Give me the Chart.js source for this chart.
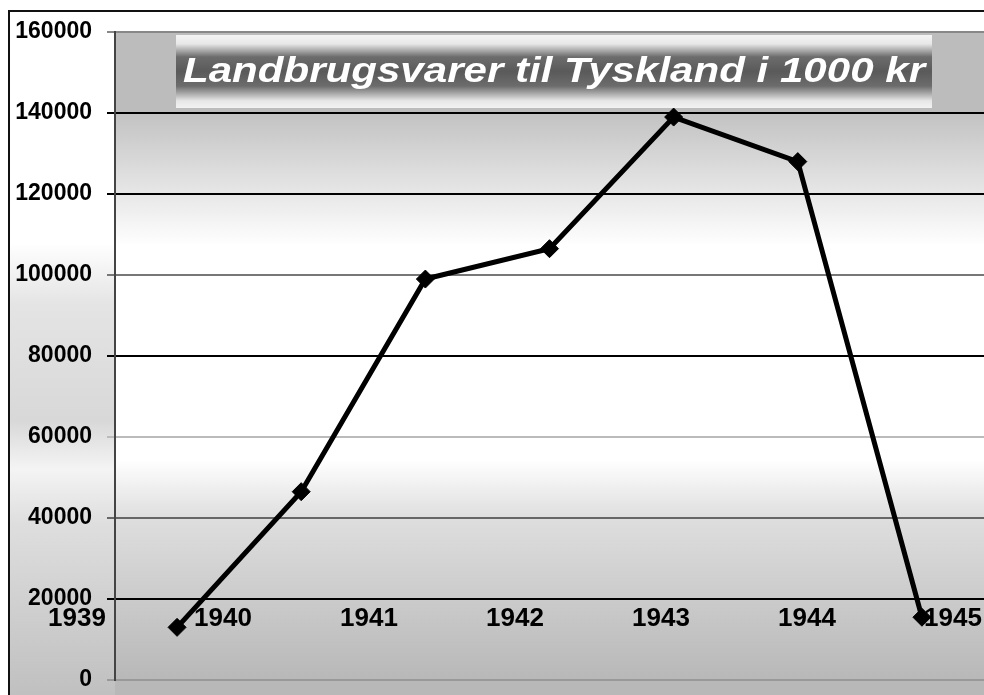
<!DOCTYPE html>
<html>
<head>
<meta charset="utf-8">
<script src="https://cdn.jsdelivr.net/npm/chart.js@4.4.1/dist/chart.umd.min.js"></script>
<style>
html, body { margin: 0; padding: 0; background: #fff; overflow: hidden; }
#wrap { width: 984px; height: 695px; }
</style>
</head>
<body>
<div id="wrap"><canvas id="lineChart"></canvas></div>
<script>
var chartTitle = "Landbrugsvarer til Tyskland i 1000 kr";
var years = ["1939", "1940", "1941", "1942", "1943", "1944", "1945"];
var values = [13000, 46500, 99000, 106500, 139000, 128000, 15500];
var yMin = 0, yMax = 160000, yStep = 20000;

// gridline colour per y tick, from 0 up to 160000
var gridColors = ["#999", "#000", "#666", "#bbb", "#000", "#777", "#000", "#000", "#888"];

var backgroundPlugin = {
    id: 'background',
    beforeDraw: function (chart) {
        var c = chart.ctx, a = chart.chartArea;
        c.save();
        c.fillStyle = '#fff';
        c.fillRect(0, 0, chart.width, chart.height);

        // area left of the axis
        var g = c.createLinearGradient(0, 10, 0, chart.height);
        g.addColorStop(0, '#fff');
        g.addColorStop(0.34, '#fff');
        g.addColorStop(0.43, '#e4e4e4');
        g.addColorStop(0.6, '#d8d8d8');
        g.addColorStop(0.67, '#f4f4f4');
        g.addColorStop(0.75, '#dedede');
        g.addColorStop(1, '#c0c0c0');
        c.fillStyle = g;
        c.fillRect(10, 12, a.left - 10, chart.height - 12);

        // plot area
        var p = c.createLinearGradient(0, a.top, 0, a.bottom);
        p.addColorStop(0, '#bcbcbc');
        p.addColorStop(0.123, '#bcbcbc');
        p.addColorStop(0.125, '#c2c2c2');
        p.addColorStop(0.33, '#fff');
        p.addColorStop(0.66, '#fff');
        p.addColorStop(0.75, '#dedede');
        p.addColorStop(1, '#b8b8b8');
        c.fillStyle = p;
        c.fillRect(a.left, a.top, a.right - a.left, chart.height - a.top);

        // frame
        c.strokeStyle = '#111';
        c.lineWidth = 2;
        c.beginPath();
        c.moveTo(9, chart.height);
        c.lineTo(9, 11);
        c.lineTo(chart.width, 11);
        c.stroke();
        c.restore();
    },
    beforeDatasetsDraw: function (chart) {
        var c = chart.ctx, a = chart.chartArea, y = chart.scales.y;
        var x0 = a.left + 61, x1 = a.right - 52;
        var y0 = y.getPixelForValue(160000) + 3, y1 = y.getPixelForValue(140000) - 5;
        var g = c.createLinearGradient(0, y0, 0, y1);
        g.addColorStop(0, '#f4f4f4');
        g.addColorStop(0.12, '#e8e8e8');
        g.addColorStop(0.22, '#a4a4a4');
        g.addColorStop(0.3, '#6c6c6c');
        g.addColorStop(0.5, '#5a5a5a');
        g.addColorStop(0.7, '#6c6c6c');
        g.addColorStop(0.8, '#a8a8a8');
        g.addColorStop(0.9, '#e6e6e6');
        g.addColorStop(1, '#f2f2f2');
        c.save();
        c.fillStyle = g;
        c.fillRect(x0, y0, x1 - x0, y1 - y0);
        c.fillStyle = '#fff';
        c.font = 'italic bold 35px "Liberation Sans", Arial, sans-serif';
        c.textAlign = 'center';
        c.textBaseline = 'middle';
        // the old title is drawn wide, so stretch it to the box
        var w = c.measureText(chartTitle).width;
        var sx = (x1 - x0 - 14) / w;
        c.translate((x0 + x1) / 2, (y0 + y1) / 2 + 1);
        c.scale(sx, 1);
        c.fillText(chartTitle, 0, 0);
        c.restore();
    },
    afterLayout: function (chart) {
        // the year labels run on their own, wider spacing than the points
        var s = chart.scales.x2;
        s.left = 4;
        s.right = 4 + 146 * years.length;
        s.width = s.right - s.left;
        s.configure();
    }
};

var ctx = document.getElementById("lineChart").getContext("2d");
new Chart(ctx, {
    type: 'line',
    data: {
        labels: years,
        datasets: [{
            label: chartTitle,
            data: values,
            borderColor: '#000',
            borderWidth: 5,
            backgroundColor: '#000',
            pointStyle: 'rectRot',
            pointRadius: 9,
            pointBackgroundColor: '#000',
            pointBorderColor: '#000',
            pointBorderWidth: 1,
            tension: 0,
            clip: false
        }]
    },
    options: {
        responsive: true,
        maintainAspectRatio: false,
        animation: false,
        layout: { autoPadding: false, padding: { top: 32, bottom: 15, left: 0, right: 0 } },
        plugins: {
            legend: { display: false },
            title: { display: false },
            tooltip: { enabled: false }
        },
        scales: {
            x: {
                type: 'category',
                display: false,
                offset: true
            },
            x2: {
                type: 'category',
                labels: years,
                position: { y: 20000 },
                offset: true,
                grid: { display: false, drawTicks: false },
                border: { display: false },
                ticks: {
                    color: '#000',
                    padding: 4,
                    maxRotation: 0,
                    autoSkip: false,
                    font: { family: '"Liberation Sans", Arial, sans-serif', size: 26, weight: 'bold' }
                }
            },
            y: {
                min: yMin,
                max: yMax,
                afterFit: function (scale) {
                    scale.width = 115;
                    scale.paddingTop = 0;
                    scale.paddingBottom = 0;
                },
                border: { display: true, color: '#444', width: 2 },
                grid: {
                    color: function (c) { return gridColors[c.index]; },
                    lineWidth: 2,
                    tickLength: 8
                },
                ticks: {
                    stepSize: yStep,
                    color: '#000',
                    padding: 15,
                    callback: function (v) { return String(v); },
                    font: { family: '"Liberation Sans", Arial, sans-serif', size: 23, weight: 'bold' }
                }
            }
        }
    },
    plugins: [backgroundPlugin]
});
</script>
</body>
</html>
